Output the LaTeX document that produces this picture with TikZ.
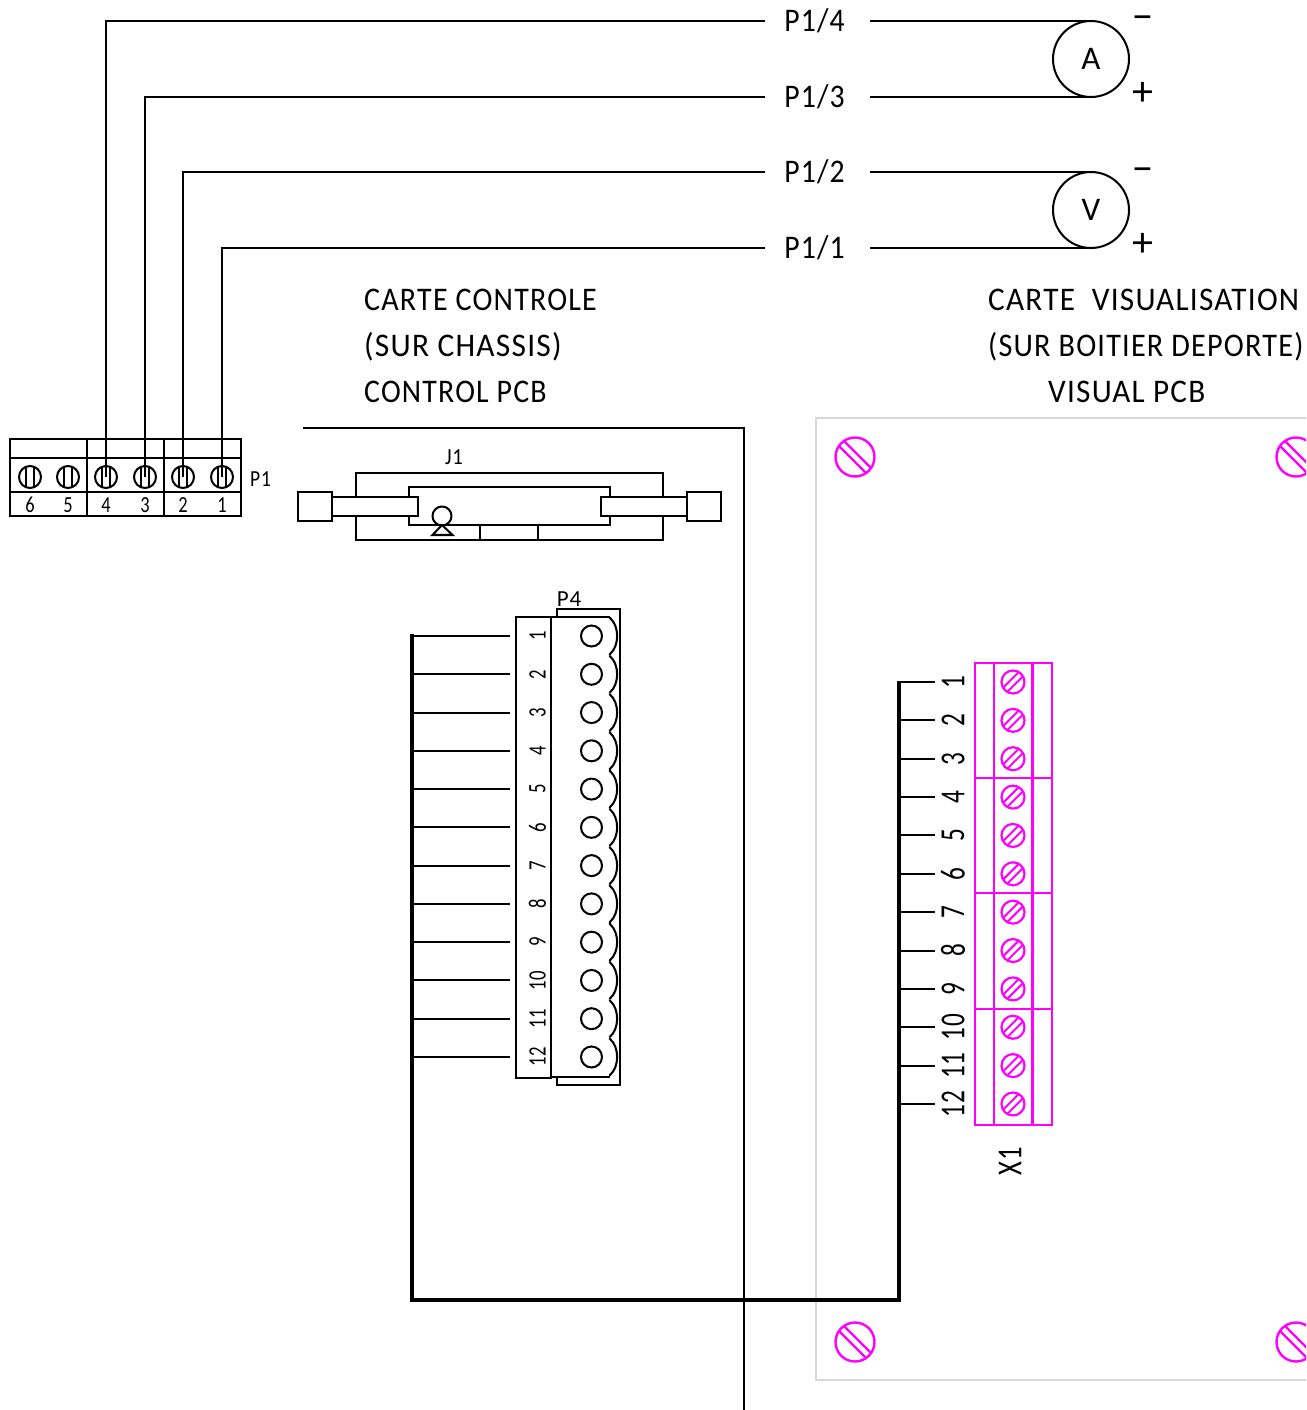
\documentclass[tikz,border=0pt]{standalone}
\usepackage{fontspec}
\usepackage{graphicx}
\setmainfont{Carlito}[LetterSpace=4]
\definecolor{screwmag}{RGB}{255,0,255}
\definecolor{boardgray}{RGB}{215,215,215}
\newcommand{\narrow}[2]{\scalebox{#1}[1]{#2}}
\tikzset{wire/.style={line width=2.03pt,black},
  bus/.style={line width=4pt,black,line join=miter},
  txtbig/.style={inner sep=0pt,font=\fontsize{33}{33}\selectfont},
  txtsign/.style={inner sep=0pt,font=\fontsize{42}{42}\selectfont},
  txtpin/.style={inner sep=0pt,font=\fontsize{23}{24}\selectfont},
  txtnum/.style={inner sep=0pt,rotate=90,font=\fontsize{25}{25}\selectfont},
  txtx/.style={inner sep=0pt,rotate=90,font=\fontsize{35}{35}\selectfont},
  meter/.style={draw,circle,line width=2.03pt,minimum size=76pt,inner sep=0pt,font=\fontsize{33}{33}\selectfont},
  hole/.style={draw,circle,line width=2.03pt,minimum size=21pt,inner sep=0pt},
  screwp/.style={draw,circle,line width=2.03pt,minimum size=22pt,inner sep=0pt},
  screwx/.style={draw=screwmag,circle,line width=2.2pt,minimum size=23pt,inner sep=0pt},
  screwb/.style={draw=screwmag,circle,line width=2.4pt,minimum size=39pt,inner sep=0pt},
  magline/.style={draw=screwmag,line width=2.8pt}}

\begin{document}
\begin{tikzpicture}[x=1pt,y=-1pt]
  \useasboundingbox (0,0) rectangle (1306,1410);
  \clip (0,0) rectangle (1306,1410);
  % board and control pcb
  \draw[boardgray,line width=2.03pt] (816,418) rectangle (1330,1380);
  \draw[wire] (303,428) -- (744,428) -- (744,1420);
  % captions
  \node[txtbig,anchor=west] (carte) at (364,300) {\narrow{.91}{CARTE CONTROLE}};
  \node[txtbig,anchor=west] (chassis) at (364,346.5) {\narrow{.953}{(SUR CHASSIS)}};
  \node[txtbig,anchor=west] (control) at (364,392) {\narrow{.904}{CONTROL PCB}};
  \node[txtbig,anchor=west] (visu) at (988,300) {\narrow{.948}{CARTE\ \ VISUALISATION}};
  \node[txtbig,anchor=west] (boitier) at (988,346.5) {\narrow{.915}{(SUR BOITIER DEPORTE)}};
  \node[txtbig,anchor=west] (visual) at (1048,392) {\narrow{.945}{VISUAL PCB}};
  % terminal block P1
  \draw[wire] (10,439) rectangle (241,516);
  \draw[wire] (10,458) -- (241,458);
  \draw[wire] (10,492) -- (241,492);
  \draw[wire] (87,439) -- (87,516);
  \draw[wire] (164,439) -- (164,516);
  \node[txtpin,anchor=west] (p1lab) at (250,479) {\narrow{.85}{P1}};
  \foreach \n/\x in {6/30,5/68,4/106,3/145,2/183,1/222}{
    \node[screwp] (scr\n) at (\x,477) {};
    \draw[wire] (\x-4,467) -- (\x-4,487);
    \draw[wire] (\x+4,467) -- (\x+4,487);
    \node[txtpin] (num\n) at (\x,505) {\narrow{.8}{\n}};
  }
  % meters
  \node[meter] (ameter) at (1091,59) {A};
  \node[meter] (vmeter) at (1091,210) {V};
  \tikzset{txtp/.style={txtbig,minimum width=105pt,execute at begin node={\kern-6pt}}}
  \node[txtp] (p14) at (817.5,21) {\narrow{.9}{P1/4}};
  \node[txtp] (p13) at (817.5,97) {\narrow{.9}{P1/3}};
  \node[txtp] (p12) at (817.5,172) {\narrow{.9}{P1/2}};
  \node[txtp] (p11) at (817.5,248) {\narrow{.9}{P1/1}};
  \draw[wire] (scr4.center) |- (p14.west);
  \draw[wire] (scr3.center) |- (p13.west);
  \draw[wire] (scr2.center) |- (p12.west);
  \draw[wire] (scr1.center) |- (p11.west);
  \draw[wire] (p14.east) -- (p14.east -| ameter.north);
  \draw[wire] (p13.east) -- (p13.east -| ameter.south);
  \draw[wire] (p12.east) -- (p12.east -| vmeter.north);
  \draw[wire] (p11.east) -- (p11.east -| vmeter.south);
  \node[txtsign] (am) at (1143,23) {−};
  \node[txtsign] (ap) at (1143,93.5) {+};
  \node[txtsign] (vm) at (1143,175) {−};
  \node[txtsign] (vp) at (1143,244.5) {+};
  % connector J1
  \node[txtpin] (j1lab) at (454,457) {\narrow{.9}{J1}};
  \draw[wire] (356,473) rectangle (663,540);
  \draw[wire] (409,487) rectangle (610,525);
  \draw[wire] (480,525) -- (480,540);
  \draw[wire] (538,525) -- (538,540);
  \draw[wire,fill=white] (332,497) rectangle (418,516);
  \draw[wire,fill=white] (601,497) rectangle (687,516);
  \draw[wire,fill=white] (298,492) rectangle (332,521);
  \draw[wire,fill=white] (687,492) rectangle (721,521);
  \draw[wire,fill=white] (442,516) circle (9.5);
  \draw[wire,fill=white] (442,525) -- (452.5,535) -- (432.5,535) -- cycle;
  % connector P4
  \node[txtpin] (p4lab) at (569,599) {P4};
  \draw[wire] (557,617) -- (557,609) -- (620,609) -- (620,1085) -- (557,1085) -- (557,1077);
  \draw[wire] (516,617) rectangle (551,1078);
  \draw[wire] (551,617) -- (610,617);
  \draw[wire] (551,1077) -- (610,1077);
  \foreach \n in {1,...,12}{
    \pgfmathsetmacro{\y}{636+38.27*(\n-1)}
    \node[hole] (hole\n) at (591.5,\y) {};
    \node[txtnum] (pin\n) at (537.5,\y) {\narrow{.75}{\n}};
    \draw[wire] (610,\y-19) -- (610,\y-18) .. controls (619.5,\y-10) and (619.5,\y+10) .. (610,\y+18) -- (610,\y+19);
    \coordinate (stub\n) at (510,\y);
    \draw[wire] (412,\y) -- (stub\n);
  }
  % connector X1
  \foreach \n in {1,...,12}{
    \pgfmathsetmacro{\y}{682+38.36*(\n-1)}
    \node[screwx] (xs\n) at (1013,\y) {};
    \draw[screwmag,line width=2pt] (1013-10.3,\y+6.1) -- (1013+6.1,\y-10.3);
    \draw[screwmag,line width=2pt] (1013-6.1,\y+10.3) -- (1013+10.3,\y-6.1);
    \node[txtx] (xn\n) at (953,\y) {\narrow{.72}{\n}};
    \coordinate (xstub\n) at (935,\y);
    \draw[wire] (899,\y) -- (xstub\n);
  }
  \draw[magline] (975,663) rectangle (1052,1125);
  \draw[magline] (994,663) -- (994,1125);
  \draw[magline] (1032.5,663) -- (1032.5,1125);
  \draw[magline] (975,778) -- (1052,778);
  \draw[magline] (975,893) -- (1052,893);
  \draw[magline] (975,1009) -- (1052,1009);
  \node[txtx] (x1lab) at (1010,1161) {\narrow{.76}{X1}};
  % bus
  \draw[bus] (412,634) -- (412,1300) -- (899,1300) -- (899,681);
  % board screws
  \foreach \sx/\sy in {855/457,1296/457,855/1342,1296/1342}{
    \node[screwb] (bs\sx\sy) at (\sx,\sy) {};
    \draw[screwmag,line width=2.4pt] (\sx-11.4,\sy-16.4) -- (\sx+16.4,\sy+11.4);
    \draw[screwmag,line width=2.4pt] (\sx-16.4,\sy-11.4) -- (\sx+11.4,\sy+16.4);
  }
\end{tikzpicture}
\end{document}
